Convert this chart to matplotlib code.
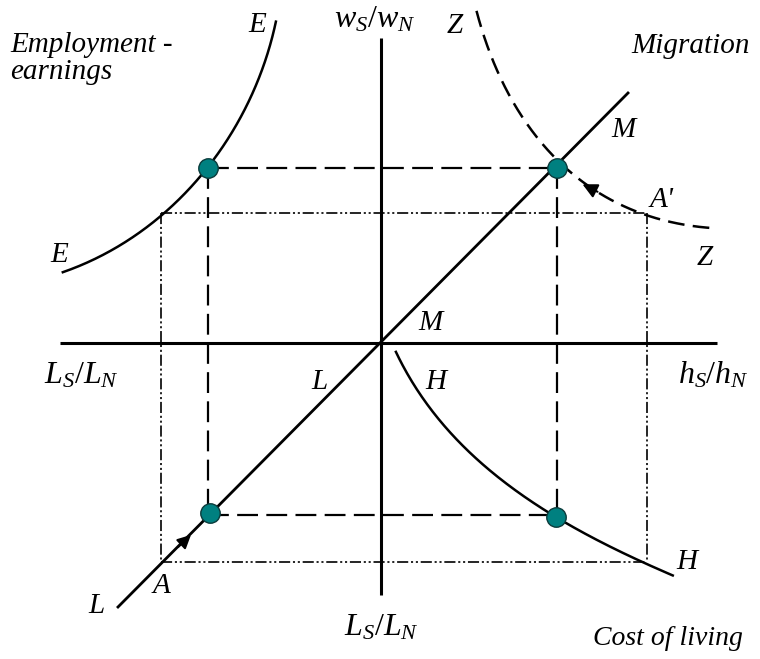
import numpy as np
import matplotlib
matplotlib.use('Agg')
import matplotlib.pyplot as plt

plt.rcParams['mathtext.fontset'] = 'custom'
plt.rcParams['mathtext.rm'] = 'Liberation Serif'
plt.rcParams['mathtext.it'] = 'Liberation Serif:italic'
plt.rcParams['lines.scale_dashes'] = False

# diagram geometry, in picture pixels (x right, y down)
origin = (381, 343)
v_axis = [(381, 38), (381, 595)]
h_axis = [(60, 343), (717, 343)]
lm_line = [(118, 607), (628, 93)]

e_curve = [(63, 272), (100, 257), (133, 237), (162, 213), (207, 170),
           (233, 133), (253, 90), (267, 50), (277, 22)]
z_curve = [(474, 13), (497, 57), (523, 110), (547, 157), (557, 168),
           (573, 177), (613, 197), (647, 210), (713, 230)]
h_curve = [(395, 353), (423, 393), (433, 413), (480, 463), (513, 490),
           (555, 517), (613, 547), (647, 562), (672, 577)]

# equilibrium points (dashed box) and shifted box (dash-dot-dot)
eq_x = [208, 557]
eq_y = [168, 515]
shift_x = [161, 647]
shift_y = [213, 562]
dots = [(208, 168), (557, 168), (210, 513), (556, 517)]

# text, x, y (baseline), alignment, size, math
labels = [
    ('Employment -', 10, 52, 'left', 21, False),
    ('earnings', 10, 79, 'left', 21, False),
    ('Migration', 750, 53, 'right', 21, False),
    ('Cost of living', 743, 645, 'right', 20, False),
    ('E', 257, 32, 'center', 21, False),
    ('E', 59, 262, 'center', 21, False),
    ('Z', 455, 33, 'center', 21, False),
    ('M', 623, 137, 'center', 21, False),
    ("A'", 662, 207, 'center', 21, False),
    ('Z', 705, 265, 'center', 21, False),
    ('M', 430, 330, 'center', 21, False),
    ('L', 319, 389, 'center', 21, False),
    ('H', 436, 389, 'center', 21, False),
    ('A', 161, 593, 'center', 21, False),
    ('L', 96, 613, 'center', 21, False),
    ('H', 687, 569, 'center', 21, False),
    (r'$w_S/w_N$', 375, 28, 'center', 23, True),
    (r'$L_S/L_N$', 81, 383, 'center', 23, True),
    (r'$h_S/h_N$', 713, 383, 'center', 23, True),
    (r'$L_S/L_N$', 381, 635, 'center', 23, True),
]

fig = plt.figure(figsize=(7.6, 6.59), dpi=100)
ax = fig.add_axes([0, 0, 1, 1])
ax.set_xlim(0, 760)
ax.set_ylim(659, 0)
ax.axis('off')

def xy(pts):
    a = np.array(pts, dtype=float)
    return a[:, 0], a[:, 1]

def smooth(pts, n=200):
    x, y = xy(pts)
    t = np.r_[0, np.cumsum(np.hypot(np.diff(x), np.diff(y)))]
    ts = np.linspace(0, t[-1], n)
    # cubic fit along arc length keeps the curve smooth
    px = np.polyfit(t, x, 3)
    py = np.polyfit(t, y, 3)
    return np.polyval(px, ts), np.polyval(py, ts)

ax.plot(*xy(v_axis), color='black', lw=2.2, solid_capstyle='butt')
ax.plot(*xy(h_axis), color='black', lw=2.2, solid_capstyle='butt')
ax.plot(*xy(lm_line), color='black', lw=2.0)

ax.plot(*smooth(e_curve), color='black', lw=1.8)
ax.plot(*smooth(h_curve), color='black', lw=1.8)
ax.plot(*smooth(z_curve), color='black', lw=1.8, dashes=(12, 6))

dash = (15, 6)
ax.plot([eq_x[0], eq_x[1]], [eq_y[0], eq_y[0]], color='black', lw=1.6, dashes=dash)
ax.plot([eq_x[0], eq_x[1]], [eq_y[1], eq_y[1]], color='black', lw=1.6, dashes=dash)
ax.plot([eq_x[0], eq_x[0]], [eq_y[0], eq_y[1]], color='black', lw=1.6, dashes=dash)
ax.plot([eq_x[1], eq_x[1]], [eq_y[0], eq_y[1]], color='black', lw=1.6, dashes=dash)

ddot = (8, 2, 1.5, 2, 1.5, 2)
ax.plot([shift_x[0], shift_x[1]], [shift_y[0], shift_y[0]], color='black', lw=1.2, dashes=ddot)
ax.plot([shift_x[0], shift_x[1]], [shift_y[1], shift_y[1]], color='black', lw=1.2, dashes=ddot)
ax.plot([shift_x[0], shift_x[0]], [shift_y[0], shift_y[1]], color='black', lw=1.2, dashes=ddot)
ax.plot([shift_x[1], shift_x[1]], [shift_y[0], shift_y[1]], color='black', lw=1.2, dashes=ddot)

for px, py in dots:
    ax.plot(px, py, 'o', ms=14, color='#008080', mec='#0b3b3b', mew=1.0, zorder=5)

ax.annotate('', xy=(580, 183), xytext=(600, 193),
            arrowprops=dict(arrowstyle='-|>', color='black', lw=1.5, mutation_scale=22))
ax.annotate('', xy=(193, 533), xytext=(176, 549),
            arrowprops=dict(arrowstyle='-|>', color='black', lw=1.5, mutation_scale=20))

for text, tx, ty, ha, size, math in labels:
    ax.text(tx, ty, text, ha=ha, va='baseline', fontsize=size,
            family='Liberation Serif', style='normal' if math else 'italic')

fig.savefig('out.png', dpi=100)
